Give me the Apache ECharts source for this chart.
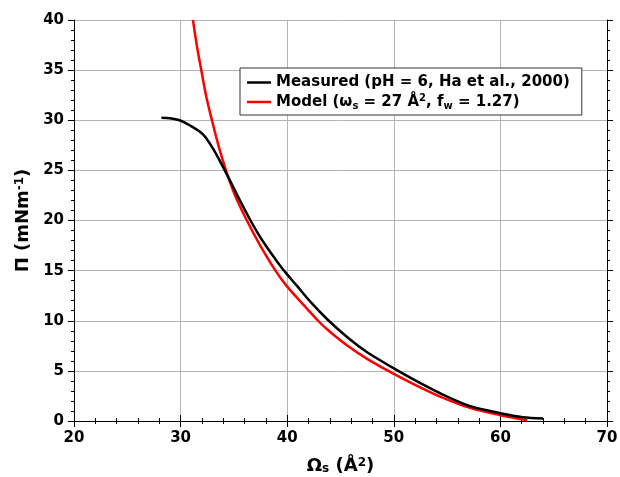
<!DOCTYPE html>
<html>
<head>
<meta charset="utf-8">
<script src="https://cdn.jsdelivr.net/npm/echarts@6/dist/echarts.min.js"></script>
<style>html,body{margin:0;padding:0;background:#fff;}#c{width:620px;height:477px;}</style>
</head>
<body>
<div id="c"></div>
<script>
const measuredX = [28.2, 29.0, 29.9, 30.85, 32.1, 33.03, 33.8, 34.6, 35.54, 36.48, 37.3, 38.05, 38.85, 39.7, 40.9, 42.3, 43.8, 45.7, 47.5, 49.6, 52.1, 54.6, 57.1, 60.0, 62.1, 64.0];
const measuredY = [30.25, 30.2, 30.0, 29.5, 28.6, 27.2, 25.7, 24.05, 22.06, 20.15, 18.65, 17.4, 16.2, 15.0, 13.5, 11.75, 10.1, 8.3, 6.85, 5.5, 4.0, 2.64, 1.5, 0.78, 0.38, 0.25];
const modelX = [31.16, 31.53, 31.94, 32.41, 32.94, 33.6, 34.29, 35.07, 36.17, 37.42, 38.9, 40.0, 41.8, 42.9, 43.68, 45.6, 47.5, 50.0, 52.13, 54.63, 57.14, 60.0, 62.5];
const modelY = [40.0, 37.4, 35.0, 32.35, 30.0, 27.3, 24.9, 22.6, 20.1, 17.6, 15.0, 13.4, 11.27, 10.0, 9.2, 7.55, 6.2, 4.7, 3.54, 2.31, 1.31, 0.58, 0.08];
const xTicks = [20, 30, 40, 50, 60, 70];
const yTicks = [0, 5, 10, 15, 20, 25, 30, 35, 40];
const seriesNames = ['Measured', 'Model'];

const FONT = 'DejaVu Sans';
const measured = measuredX.map((x, i) => [x, measuredY[i]]);
const model = modelX.map((x, i) => [x, modelY[i]]);

const chart = echarts.init(document.getElementById('c'), null, {renderer: 'canvas'});
const axisCommon = {
  type: 'value',
  axisLine: {show: true, lineStyle: {color: '#000', width: 1}},
  axisTick: {show: true, length: 6, lineStyle: {color: '#000'}},
  minorTick: {show: true, splitNumber: 5, length: 3, lineStyle: {color: '#000'}},
  minorSplitLine: {show: false}
};
const labelStyle = {color: '#000', fontFamily: FONT, fontSize: 15, fontWeight: 'bold'};
const legendRich = {
  n: {fontFamily: FONT, fontSize: 15, fontWeight: 'bold', color: '#000', lineHeight: 18},
  sub: {fontFamily: FONT, fontSize: 10, fontWeight: 'bold', color: '#000', verticalAlign: 'bottom', lineHeight: 18, padding: [5, 0, 0, 0]},
  sup: {fontFamily: FONT, fontSize: 10, fontWeight: 'bold', color: '#000', verticalAlign: 'top', lineHeight: 18, padding: [0, 0, 5, 0]}
};
chart.setOption({
  animation: false,
  backgroundColor: '#fff',
  grid: {left: 74, right: 13, top: 20, bottom: 56, containLabel: false, outerBoundsMode: 'none'},
  legend: {
    orient: 'vertical',
    left: 240, top: 68,
    data: seriesNames.map(n => ({name: n, icon: 'rect'})),
    itemWidth: 24, itemHeight: 2.5, itemGap: 3,
    padding: [7, 12, 4, 7],
    borderColor: '#333', borderWidth: 1,
    backgroundColor: '#fff',
    textStyle: {fontFamily: FONT, fontSize: 15, fontWeight: 'bold', color: '#000', rich: legendRich},
    formatter: function (name) {
      if (name === 'Measured') return '{n|Measured (pH = 6, Ha et al., 2000)}';
      return '{n|Model (ω}{sub|s}{n| = 27 Å}{sup|2}{n|, f}{sub|w}{n| = 1.27)}';
    }
  },
  xAxis: [
    Object.assign({}, axisCommon, {
      position: 'bottom', min: 20, max: 70, interval: 10,
      axisLabel: Object.assign({margin: 10}, labelStyle),
      splitLine: {show: true, lineStyle: {color: '#b4b4b4', width: 1}},
      name: '{n|Ω}{sub|s}{n| (Å}{sup|2}{n|)}',
      nameLocation: 'middle', nameGap: 36,
      nameTextStyle: {rich: {
        n: {fontFamily: FONT, fontSize: 18, fontWeight: 'bold', color: '#000'},
        sub: {fontFamily: FONT, fontSize: 12, fontWeight: 'bold', color: '#000', verticalAlign: 'bottom', padding: [6, 0, 0, 0]},
        sup: {fontFamily: FONT, fontSize: 12, fontWeight: 'bold', color: '#000', verticalAlign: 'top', padding: [0, 0, 6, 0]}
      }}
    }),
    Object.assign({}, axisCommon, {
      position: 'top', min: 20, max: 70, interval: 10,
      axisLabel: {show: false}, splitLine: {show: false}
    })
  ],
  yAxis: [
    Object.assign({}, axisCommon, {
      position: 'left', min: 0, max: 40, interval: 5,
      axisLabel: Object.assign({margin: 10}, labelStyle),
      splitLine: {show: true, lineStyle: {color: '#b4b4b4', width: 1}},
      name: '{n|Π (mNm}{sup|-1}{n|)}',
      nameLocation: 'middle', nameGap: 37, nameRotate: 90,
      nameTextStyle: {rich: {
        n: {fontFamily: FONT, fontSize: 18, fontWeight: 'bold', color: '#000'},
        sup: {fontFamily: FONT, fontSize: 12, fontWeight: 'bold', color: '#000', verticalAlign: 'top', padding: [0, 0, 6, 0]}
      }}
    }),
    Object.assign({}, axisCommon, {
      position: 'right', min: 0, max: 40, interval: 5,
      axisLabel: {show: false}, splitLine: {show: false}
    })
  ],
  series: [
    {name: seriesNames[0], type: 'line', data: measured, smooth: 0.3, showSymbol: false, symbol: 'none',
     lineStyle: {color: '#000', width: 2.5}, itemStyle: {color: '#000'}, z: 3},
    {name: seriesNames[1], type: 'line', data: model, smooth: 0.3, showSymbol: false, symbol: 'none',
     lineStyle: {color: '#ff0000', width: 2.5}, itemStyle: {color: '#ff0000'}, z: 2}
  ]
});
</script>
</body>
</html>
